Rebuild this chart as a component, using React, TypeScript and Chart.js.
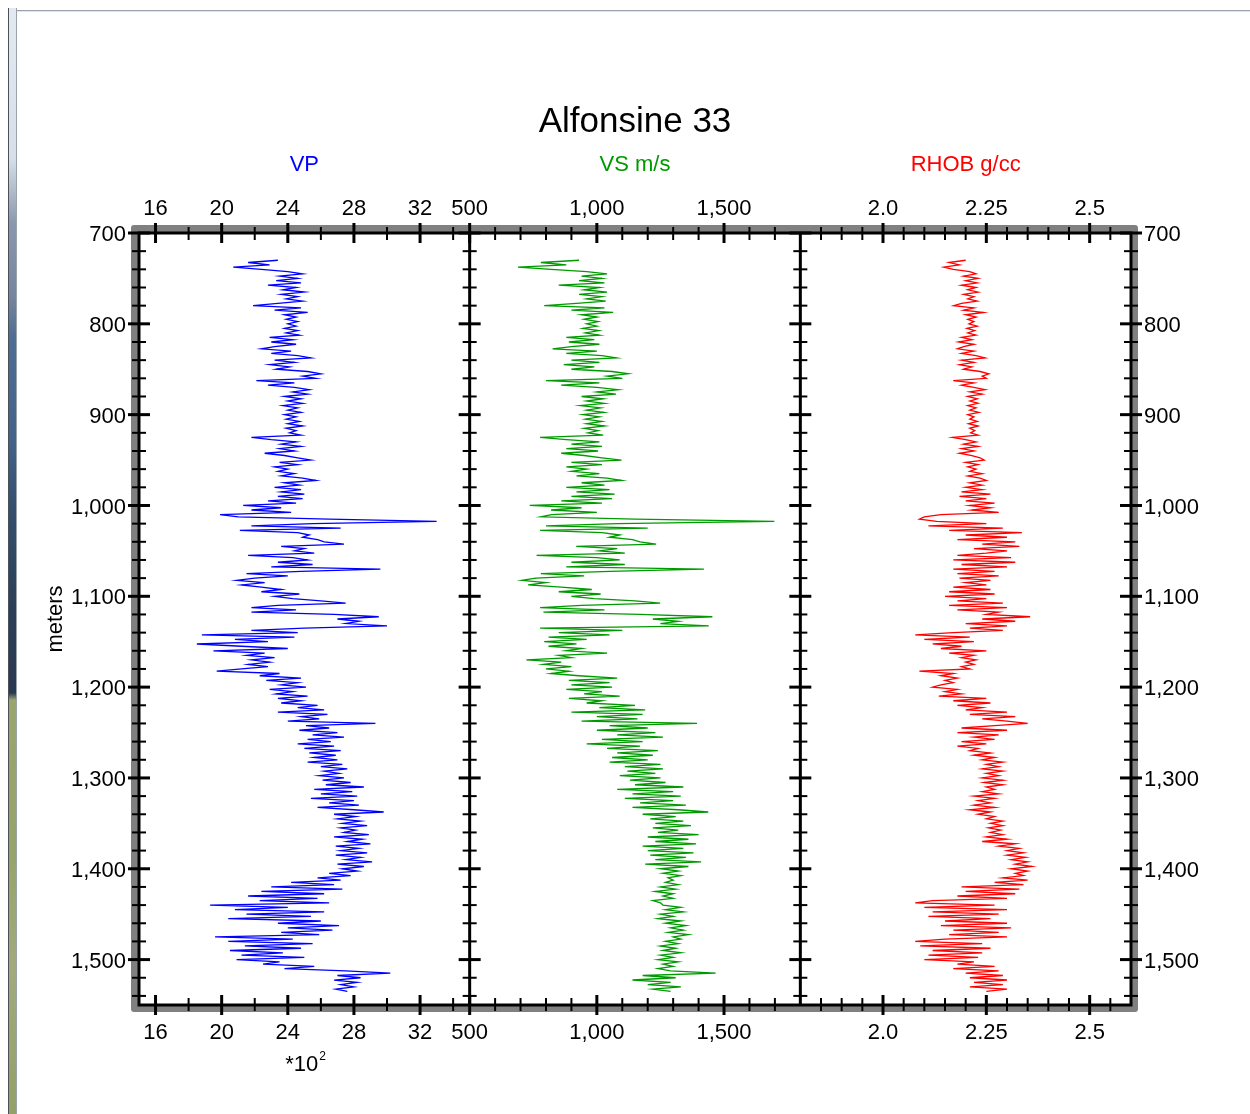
import React, { useEffect, useRef } from "react";
import { Chart, registerables } from "chart.js";

Chart.register(...registerables);

const TITLE = "Alfonsine 33";
const SERIES_NAMES = ["VP", "VS m/s", "RHOB g/cc"];
const SERIES_COLORS = ["#0000ff", "#009a00", "#ff0000"];
const DEPTH_AXIS_NAME = "meters";
const VP_MULTIPLIER = "*10";
const VP_EXPONENT = "2";

// depth sampling of the logs (m)
const DEPTH_START = 730;
const DEPTH_STEP = 2.5;

// VP (x100 m/s), one value every 2.5 m from 730 m
const VP = [
  23.4, 21.6, 22.9, 20.7, 22.4, 24.0, 24.9, 23.5, 24.6, 23.3, 24.8, 22.8, 24.5, 23.7, 25.0, 23.6, 24.6, 23.9, 24.9, 23.4,
  21.9, 24.8, 23.2, 25.2, 23.8, 24.5, 23.9, 24.6, 24.0, 24.5, 23.8, 24.6, 23.9, 24.7, 22.9, 24.3, 23.0, 24.5, 23.2, 22.4,
  24.2, 23.0, 24.6, 25.4, 23.2, 24.4, 22.9, 24.1, 23.3, 25.2, 26.0, 24.9, 25.7, 22.1, 24.4, 22.8, 24.4, 25.3, 24.3, 25.2,
  23.8, 24.8, 24.0, 24.9, 23.7, 24.6, 24.0, 24.8, 23.8, 24.5, 23.9, 24.7, 24.0, 24.9, 23.9, 24.5, 24.1, 24.8, 21.8, 23.0,
  24.5, 23.6, 24.8, 23.5, 24.4, 22.6, 23.8, 24.6, 25.4, 23.5, 24.6, 23.2, 24.0, 23.4, 24.4, 23.6, 24.9, 25.7, 23.8, 24.7,
  23.2, 24.8, 23.6, 25.0, 23.4, 24.9, 22.8, 24.5, 21.3, 23.6, 21.8, 24.2, 19.9, 21.0, 26.5, 33.0, 25.5, 21.8, 27.2, 21.1,
  24.6, 25.3, 24.9, 25.8, 26.2, 27.4, 23.6, 25.0, 24.4, 25.6, 21.6, 24.3, 25.2, 23.4, 25.5, 23.0, 29.6, 24.8, 21.5, 24.0,
  22.0, 20.9, 22.6, 21.2, 22.4, 23.6, 22.4, 24.7, 23.2, 24.3, 26.0, 27.5, 23.4, 21.8, 24.5, 21.8, 26.8, 29.5, 27.0, 28.3,
  27.5, 30.0, 25.0, 21.8, 24.6, 18.8, 24.4, 20.8, 22.8, 18.5, 21.2, 24.0, 19.5, 22.6, 21.5, 23.2, 21.8, 22.9, 21.6, 22.8,
  21.2, 19.7, 23.5, 22.3, 24.8, 22.7, 24.6, 23.6, 25.1, 22.9, 24.3, 23.3, 25.2, 23.4, 24.8, 23.6, 25.8, 24.6, 26.2, 23.4,
  26.4, 24.8, 25.9, 24.0, 29.3, 25.1, 26.5, 24.7, 27.0, 25.5, 27.4, 25.2, 26.6, 24.6, 26.8, 25.0, 27.2, 25.3, 26.9, 25.6,
  27.0, 25.2, 27.3, 26.0, 27.6, 26.2, 27.1, 25.9, 27.4, 26.1, 27.8, 26.3, 28.6, 25.6, 27.9, 26.0, 28.2, 25.4, 28.0, 26.5,
  28.3, 25.8, 28.0, 29.8, 26.8, 28.1, 27.0, 28.4, 27.3, 28.8, 27.2, 28.1, 27.4, 28.9, 26.8, 28.5, 27.6, 29.0, 26.9, 28.3,
  27.2, 28.8, 26.9, 28.4, 27.5, 29.1, 27.0, 28.6, 27.3, 28.2, 26.5, 27.8, 25.8, 27.2, 24.2, 26.8, 23.0, 27.3, 22.4, 26.2,
  21.6, 25.8, 22.3, 26.5, 19.3, 24.0, 20.8, 26.2, 21.5, 25.4, 20.4, 26.0, 23.4, 27.1, 24.0, 26.7, 23.6, 25.9, 19.6, 24.3,
  20.4, 25.5, 21.4, 24.8, 20.5, 23.7, 21.2, 25.0, 20.9, 23.5, 22.5, 25.6, 23.8, 27.5, 30.2, 27.0, 28.4, 26.8, 28.2, 27.2,
  28.0, 26.9, 27.6,
];

// VS (m/s)
const VS = [
  930, 780, 880, 690, 820, 960, 1040, 940, 1020, 930, 1030, 850, 1010, 950, 1040, 930, 1020, 960, 1035, 920,
  793, 1030, 900, 1064, 940, 1000, 950, 1005, 960, 1000, 945, 1008, 955, 1010, 880, 990, 890, 1010, 900, 826,
  1000, 880, 1020, 1077, 900, 1010, 870, 990, 900, 1060, 1123, 1040, 1100, 800, 1010, 860, 1000, 1084, 1000, 1075,
  940, 1025, 960, 1030, 935, 1015, 960, 1028, 945, 1010, 955, 1020, 960, 1030, 950, 1005, 965, 1025, 777, 880,
  1010, 900, 1020, 880, 1005, 860, 950, 1020, 1097, 900, 1020, 880, 960, 900, 1010, 920, 1040, 1097, 940, 1030,
  880, 1050, 920, 1070, 900, 1060, 860, 1020, 736, 940, 820, 1000, 822, 780, 1150, 1698, 1080, 800, 1200, 777,
  1020, 1090, 1050, 1140, 1170, 1233, 919, 1080, 1010, 1110, 763, 1000, 1090, 900, 1110, 880, 1421, 1050, 780, 950,
  760, 705, 800, 730, 860, 980, 850, 1015, 900, 990, 1150, 1249, 940, 777, 1030, 790, 1170, 1454, 1220, 1320,
  1250, 1440, 777, 1100, 850, 1050, 810, 960, 793, 920, 810, 940, 880, 1040, 850, 900, 723, 860, 790, 900,
  800, 890, 820, 930, 1080, 890, 1050, 900, 1060, 880, 1020, 950, 1090, 890, 1020, 960, 1150, 1010, 1190, 900,
  1180, 1000, 1160, 940, 1394, 1050, 1200, 1000, 1230, 1080, 1260, 1020, 1180, 960, 1170, 1040, 1240, 1080, 1220, 1060,
  1200, 1050, 1250, 1110, 1260, 1120, 1230, 1090, 1250, 1130, 1270, 1150, 1340, 1080, 1300, 1140, 1330, 1110, 1300, 1170,
  1350, 1140, 1320, 1438, 1180, 1310, 1210, 1340, 1230, 1370, 1220, 1320, 1240, 1400, 1200, 1360, 1230, 1390, 1180, 1340,
  1200, 1380, 1210, 1350, 1230, 1410, 1190, 1360, 1250, 1320, 1260, 1330, 1280, 1300, 1270, 1320, 1250, 1310, 1230, 1300,
  1260, 1300, 1220, 1250, 1260, 1330, 1270, 1340, 1250, 1300, 1240, 1330, 1270, 1350, 1290, 1340, 1280, 1360, 1300, 1330,
  1270, 1320, 1250, 1310, 1260, 1330, 1250, 1300, 1240, 1320, 1260, 1300, 1240, 1290, 1467, 1180, 1310, 1140, 1290, 1200,
  1330, 1220, 1290,
];

// RHOB (g/cc)
const RHOB = [
  2.2, 2.16, 2.185, 2.147, 2.17, 2.21, 2.225, 2.195, 2.23, 2.2, 2.228, 2.19, 2.225, 2.205, 2.23, 2.195, 2.22, 2.205, 2.228, 2.19,
  2.171, 2.22, 2.195, 2.243, 2.2, 2.225, 2.205, 2.22, 2.208, 2.228, 2.203, 2.222, 2.205, 2.225, 2.19, 2.215, 2.183, 2.22, 2.195, 2.18,
  2.22, 2.19, 2.225, 2.247, 2.19, 2.22, 2.185, 2.215, 2.195, 2.235, 2.256, 2.24, 2.25, 2.17, 2.22, 2.19, 2.22, 2.247, 2.21, 2.24,
  2.205, 2.228, 2.21, 2.23, 2.205, 2.225, 2.21, 2.232, 2.205, 2.22, 2.21, 2.228, 2.207, 2.23, 2.21, 2.222, 2.212, 2.23, 2.168, 2.2,
  2.225, 2.195, 2.23, 2.19, 2.22, 2.185, 2.215, 2.235, 2.245, 2.2, 2.23, 2.205, 2.225, 2.21, 2.24, 2.205, 2.235, 2.25, 2.21, 2.24,
  2.2, 2.24, 2.19, 2.26, 2.185, 2.25, 2.2, 2.27, 2.21, 2.26, 2.215, 2.28, 2.14, 2.1, 2.088, 2.13, 2.25, 2.11, 2.29, 2.16,
  2.336, 2.2, 2.3, 2.18, 2.32, 2.24, 2.33, 2.22, 2.3, 2.25, 2.18, 2.31, 2.17, 2.32, 2.19, 2.3, 2.17, 2.27, 2.18, 2.28,
  2.185, 2.26, 2.2, 2.25, 2.17, 2.26, 2.16, 2.27, 2.15, 2.25, 2.18, 2.29, 2.16, 2.3, 2.18, 2.28, 2.25, 2.356, 2.24, 2.32,
  2.2, 2.3, 2.21, 2.29, 2.17, 2.078, 2.21, 2.1, 2.22, 2.12, 2.19, 2.14, 2.25, 2.16, 2.22, 2.19, 2.225, 2.2, 2.22, 2.19,
  2.21, 2.088, 2.17, 2.14, 2.18, 2.15, 2.17, 2.14, 2.12, 2.18, 2.15, 2.19, 2.135, 2.25, 2.17, 2.26, 2.18, 2.24, 2.2, 2.3,
  2.21, 2.32, 2.24, 2.3, 2.35, 2.27, 2.19, 2.3, 2.18, 2.28, 2.22, 2.27, 2.19, 2.25, 2.18, 2.23, 2.21, 2.26, 2.22, 2.27,
  2.24, 2.29, 2.25, 2.28, 2.24, 2.29, 2.25, 2.28, 2.24, 2.29, 2.245, 2.29, 2.25, 2.27, 2.24, 2.28, 2.22, 2.27, 2.23, 2.26,
  2.22, 2.27, 2.21, 2.26, 2.23, 2.27, 2.25, 2.29, 2.26, 2.29, 2.255, 2.285, 2.26, 2.29, 2.25, 2.3, 2.24, 2.32, 2.28, 2.33,
  2.3, 2.34, 2.3, 2.345, 2.31, 2.35, 2.32, 2.36, 2.31, 2.35, 2.32, 2.34, 2.29, 2.35, 2.27, 2.34, 2.19, 2.33, 2.2, 2.32,
  2.18, 2.3, 2.12, 2.078, 2.27, 2.1, 2.3, 2.12, 2.28, 2.11, 2.26, 2.15, 2.3, 2.14, 2.31, 2.17, 2.28, 2.16, 2.3, 2.15,
  2.078, 2.24, 2.09, 2.26, 2.12, 2.24, 2.11, 2.23, 2.1, 2.22, 2.18, 2.27, 2.17, 2.28, 2.2, 2.29, 2.21, 2.3, 2.22, 2.29,
  2.21, 2.3, 2.25,
];

// axis ranges
const DEPTH_RANGE = [700, 1550];
const VP_RANGE = [15, 35];
const VS_RANGE = [500, 1800];
const RH_RANGE = [1.8, 2.6];

// ticks
const DEPTH_MAJOR = [700, 800, 900, 1000, 1100, 1200, 1300, 1400, 1500];
const DEPTH_MINOR = [720, 740, 760, 780, 820, 840, 860, 880, 920, 940, 960, 980, 1020, 1040, 1060, 1080, 1120, 1140, 1160, 1180, 1220, 1240, 1260, 1280, 1320, 1340, 1360, 1380, 1420, 1440, 1460, 1480, 1520, 1540];
const VP_MAJOR = [16, 20, 24, 28, 32];
const VP_MINOR = [18, 22, 26, 30, 34];
const VP_LABELS = ["16", "20", "24", "28", "32"];
const VS_MAJOR = [500, 1000, 1500];
const VS_MINOR = [600, 700, 800, 900, 1100, 1200, 1300, 1400, 1600, 1700];
const VS_LABELS = ["500", "1,000", "1,500"];
const RH_MAJOR = [2.0, 2.25, 2.5];
const RH_MINOR = [1.85, 1.9, 1.95, 2.05, 2.1, 2.15, 2.2, 2.3, 2.35, 2.4, 2.45, 2.55];
const RH_LABELS = ["2.0", "2.25", "2.5"];

const FONT = '"Liberation Sans", Arial, Helvetica, sans-serif';

function fmtDepth(d: number): string {
  return String(d).replace(/\B(?=(\d{3})+(?!\d))/g, ",");
}

const logPlugin = {
  id: "logFrame",
  beforeDatasetsDraw(chart: any) {
    const { ctx, chartArea: a } = chart;
    ctx.save();
    ctx.fillStyle = "#808080";
    ctx.beginPath();
    if (ctx.roundRect) ctx.roundRect(a.left - 8, a.top - 8, a.right - a.left + 15, a.bottom - a.top + 15, 3);
    else ctx.rect(a.left - 8, a.top - 8, a.right - a.left + 15, a.bottom - a.top + 15);
    ctx.fill();
    ctx.fillStyle = "#ffffff";
    ctx.fillRect(a.left, a.top, a.right - a.left, a.bottom - a.top);
    ctx.restore();
  },
  afterDatasetsDraw(chart: any) {
    const { ctx, chartArea: a, scales } = chart;
    const y = scales.y;
    const sx = [scales.xVP, scales.xVS, scales.xRH];
    const div1 = scales.xVS.getPixelForValue(VS_RANGE[0]);
    const div2 = scales.xRH.getPixelForValue(RH_RANGE[0]);
    ctx.save();
    ctx.strokeStyle = "#000";
    ctx.lineCap = "butt";
    // frame
    ctx.lineWidth = 3;
    ctx.strokeRect(a.left, a.top, a.right - a.left, a.bottom - a.top);
    ctx.beginPath();
    ctx.moveTo(div1, a.top);
    ctx.lineTo(div1, a.bottom);
    ctx.moveTo(div2, a.top);
    ctx.lineTo(div2, a.bottom);
    ctx.stroke();

    const hLine = (x0: number, x1: number, yy: number, w: number) => {
      ctx.lineWidth = w;
      ctx.beginPath();
      ctx.moveTo(x0, yy);
      ctx.lineTo(x1, yy);
      ctx.stroke();
    };
    const vLine = (xx: number, y0: number, y1: number, w: number) => {
      ctx.lineWidth = w;
      ctx.beginPath();
      ctx.moveTo(xx, y0);
      ctx.lineTo(xx, y1);
      ctx.stroke();
    };

    // depth ticks on the four vertical lines
    const verticals = [a.left, div1, div2, a.right];
    for (const vx of verticals) {
      for (const d of DEPTH_MAJOR) {
        const py = y.getPixelForValue(d);
        hLine(vx - 11, vx + 11, py, 3);
      }
      for (const d of DEPTH_MINOR) {
        const py = y.getPixelForValue(d);
        hLine(vx - 7, vx + 7, py, 2);
      }
    }

    // top & bottom ticks
    const tickSets: [any, number[], number[]][] = [
      [scales.xVP, VP_MAJOR, VP_MINOR],
      [scales.xVS, VS_MAJOR, VS_MINOR],
      [scales.xRH, RH_MAJOR, RH_MINOR],
    ];
    for (const [sc, maj, min] of tickSets) {
      for (const v of maj) {
        const px = sc.getPixelForValue(v);
        vLine(px, a.top - 10, a.top + 10, 3);
        vLine(px, a.bottom - 10, a.bottom + 10, 3);
      }
      for (const v of min) {
        const px = sc.getPixelForValue(v);
        vLine(px, a.top - 6, a.top + 7, 2);
        vLine(px, a.bottom - 7, a.bottom + 6, 2);
      }
    }

    // tick labels
    ctx.fillStyle = "#000";
    ctx.font = `22px ${FONT}`;
    ctx.textAlign = "center";
    ctx.textBaseline = "middle";
    const labelSets: [any, number[], string[]][] = [
      [scales.xVP, VP_MAJOR, VP_LABELS],
      [scales.xVS, VS_MAJOR, VS_LABELS],
      [scales.xRH, RH_MAJOR, RH_LABELS],
    ];
    for (const [sc, vals, labs] of labelSets) {
      vals.forEach((v, i) => {
        const px = sc.getPixelForValue(v);
        ctx.fillText(labs[i], px, a.top - 24);
        ctx.fillText(labs[i], px, a.bottom + 28);
      });
    }
    // depth labels
    for (const d of DEPTH_MAJOR) {
      const py = y.getPixelForValue(d) + 2;
      ctx.textAlign = "right";
      ctx.fillText(fmtDepth(d), a.left - 13, py);
      ctx.textAlign = "left";
      ctx.fillText(fmtDepth(d), a.right + 13, py);
    }

    // series names
    SERIES_NAMES.forEach((name, i) => {
      const sc = sx[i];
      const range = i === 0 ? VP_RANGE : i === 1 ? VS_RANGE : RH_RANGE;
      const cx = (sc.getPixelForValue(range[0]) + sc.getPixelForValue(range[1])) / 2;
      ctx.fillStyle = SERIES_COLORS[i];
      ctx.textAlign = "center";
      ctx.font = `22px ${FONT}`;
      ctx.fillText(name, cx, a.top - 68);
    });

    // title
    ctx.fillStyle = "#000";
    ctx.font = `35px ${FONT}`;
    ctx.textAlign = "center";
    ctx.fillText(TITLE, (a.left + a.right) / 2, a.top - 111);

    // VP multiplier
    const vpCenter = (scales.xVP.getPixelForValue(VP_RANGE[0]) + scales.xVP.getPixelForValue(VP_RANGE[1])) / 2;
    ctx.font = `22px ${FONT}`;
    ctx.textAlign = "right";
    ctx.fillText(VP_MULTIPLIER, vpCenter + 14, a.bottom + 60);
    ctx.font = `12px ${FONT}`;
    ctx.textAlign = "left";
    ctx.fillText(VP_EXPONENT, vpCenter + 15, a.bottom + 52);

    // depth axis name
    ctx.save();
    ctx.translate(56, (a.top + a.bottom) / 2);
    ctx.rotate(-Math.PI / 2);
    ctx.font = `22px ${FONT}`;
    ctx.textAlign = "center";
    ctx.fillText(DEPTH_AXIS_NAME, 0, 0);
    ctx.restore();

    ctx.restore();
  },
};

export default function App() {
  const ref = useRef<HTMLCanvasElement | null>(null);

  useEffect(() => {
    if (!ref.current) return;
    const depths = VP.map((_, i) => DEPTH_START + i * DEPTH_STEP);
    const toPoints = (vals: number[]) => vals.map((v, i) => ({ x: v, y: depths[i] }));
    const base = {
      yAxisID: "y",
      borderWidth: 1.3,
      pointRadius: 0,
      pointHoverRadius: 0,
      fill: false,
      tension: 0,
    };
    const chart = new Chart(ref.current, {
      type: "line",
      data: {
        datasets: [
          { ...base, label: SERIES_NAMES[0], data: toPoints(VP), xAxisID: "xVP", borderColor: SERIES_COLORS[0] },
          { ...base, label: SERIES_NAMES[1], data: toPoints(VS), xAxisID: "xVS", borderColor: SERIES_COLORS[1] },
          { ...base, label: SERIES_NAMES[2], data: toPoints(RHOB), xAxisID: "xRH", borderColor: SERIES_COLORS[2] },
        ] as any,
      },
      options: {
        responsive: false,
        animation: false,
        indexAxis: "y",
        events: [],
        layout: { padding: { left: 139, right: 119, top: 233, bottom: 109 } },
        plugins: {
          legend: { display: false },
          tooltip: { enabled: false },
          title: { display: false },
        },
        scales: {
          y: { type: "linear", reverse: true, min: DEPTH_RANGE[0], max: DEPTH_RANGE[1], display: false },
          // each track occupies one third of the plot width
          xVP: { type: "linear", position: "top", min: VP_RANGE[0], max: VP_RANGE[0] + 3 * (VP_RANGE[1] - VP_RANGE[0]), display: false },
          xVS: { type: "linear", position: "top", min: VS_RANGE[0] - (VS_RANGE[1] - VS_RANGE[0]), max: VS_RANGE[1] + (VS_RANGE[1] - VS_RANGE[0]), display: false },
          xRH: { type: "linear", position: "top", min: RH_RANGE[1] - 3 * (RH_RANGE[1] - RH_RANGE[0]), max: RH_RANGE[1], display: false },
        },
      } as any,
      plugins: [logPlugin],
    });
    return () => chart.destroy();
  }, []);

  return (
    <div style={{ position: "absolute", left: 0, top: 0, width: 1250, height: 1114, background: "#ffffff", overflow: "hidden" }}>
      <div style={{ position: "absolute", left: 16, top: 10, width: 1234, height: 1, background: "#9aa3ad" }} />
      <div style={{ position: "absolute", left: 16, top: 11, width: 1234, height: 1, background: "#dfe4ea" }} />
      <div
        style={{
          position: "absolute",
          left: 8,
          top: 8,
          width: 7,
          height: 1106,
          borderLeft: "1px solid #4c5158",
          borderRight: "1px solid #9ba1a8",
          background:
            "linear-gradient(to bottom, #e2e9f1 0px, #d6e0ea 150px, #8a98ae 215px, #74859e 290px, #4e6d93 330px, #43638a 430px, #33506f 500px, #2b3f58 600px, #283a52 685px, #9aa56e 692px, #97a36c 850px, #a2aa7c 960px, #93a068 1106px)",
        }}
      />
      <canvas ref={ref} width={1250} height={1114} style={{ position: "absolute", left: 0, top: 0 }} />
    </div>
  );
}
